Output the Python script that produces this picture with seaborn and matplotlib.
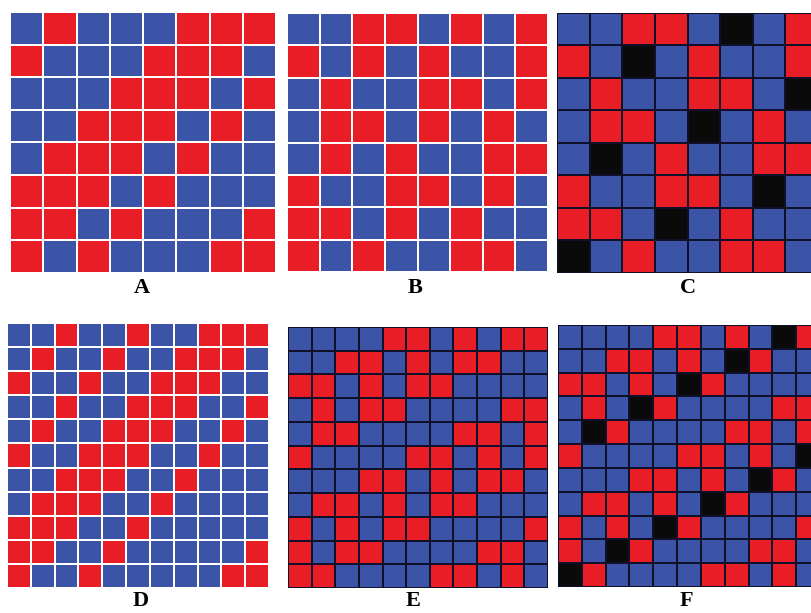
import matplotlib
matplotlib.use("Agg")
import matplotlib.pyplot as plt
from matplotlib.colors import ListedColormap
import numpy as np
import seaborn as sns

# 0 = blue, 1 = red, 2 = black
panel_a = [
    [0, 1, 0, 0, 0, 1, 1, 1],
    [1, 0, 0, 0, 1, 1, 1, 0],
    [0, 0, 0, 1, 1, 1, 0, 1],
    [0, 0, 1, 1, 1, 0, 1, 0],
    [0, 1, 1, 1, 0, 1, 0, 0],
    [1, 1, 1, 0, 1, 0, 0, 0],
    [1, 1, 0, 1, 0, 0, 0, 1],
    [1, 0, 1, 0, 0, 0, 1, 1],
]
panel_b = [
    [0, 0, 1, 1, 0, 1, 0, 1],
    [1, 0, 1, 0, 1, 0, 0, 1],
    [0, 1, 0, 0, 1, 1, 0, 1],
    [0, 1, 1, 0, 1, 0, 1, 0],
    [0, 1, 0, 1, 0, 0, 1, 1],
    [1, 0, 0, 1, 1, 0, 1, 0],
    [1, 1, 0, 1, 0, 1, 0, 0],
    [1, 0, 1, 0, 0, 1, 1, 0],
]
panel_c = [
    [0, 0, 1, 1, 0, 2, 0, 1],
    [1, 0, 2, 0, 1, 0, 0, 1],
    [0, 1, 0, 0, 1, 1, 0, 2],
    [0, 1, 1, 0, 2, 0, 1, 0],
    [0, 2, 0, 1, 0, 0, 1, 1],
    [1, 0, 0, 1, 1, 0, 2, 0],
    [1, 1, 0, 2, 0, 1, 0, 0],
    [2, 0, 1, 0, 0, 1, 1, 0],
]
panel_d = [
    [0, 0, 1, 0, 0, 1, 0, 0, 1, 1, 1],
    [0, 1, 0, 0, 1, 0, 0, 1, 1, 1, 0],
    [1, 0, 0, 1, 0, 0, 1, 1, 1, 0, 0],
    [0, 0, 1, 0, 0, 1, 1, 1, 0, 0, 1],
    [0, 1, 0, 0, 1, 1, 1, 0, 0, 1, 0],
    [1, 0, 0, 1, 1, 1, 0, 0, 1, 0, 0],
    [0, 0, 1, 1, 1, 0, 0, 1, 0, 0, 0],
    [0, 1, 1, 1, 0, 0, 1, 0, 0, 0, 0],
    [1, 1, 1, 0, 0, 1, 0, 0, 0, 0, 0],
    [1, 1, 0, 0, 1, 0, 0, 0, 0, 0, 1],
    [1, 0, 0, 1, 0, 0, 0, 0, 0, 1, 1],
]
panel_e = [
    [0, 0, 0, 0, 1, 1, 0, 1, 0, 1, 1],
    [0, 0, 1, 1, 0, 1, 0, 1, 1, 0, 0],
    [1, 1, 0, 1, 0, 1, 1, 0, 0, 0, 0],
    [0, 1, 0, 1, 1, 0, 0, 0, 0, 1, 1],
    [0, 1, 1, 0, 0, 0, 0, 1, 1, 0, 1],
    [1, 0, 0, 0, 0, 1, 1, 0, 1, 0, 1],
    [0, 0, 0, 1, 1, 0, 1, 0, 1, 1, 0],
    [0, 1, 1, 0, 1, 0, 1, 1, 0, 0, 0],
    [1, 0, 1, 0, 1, 1, 0, 0, 0, 0, 1],
    [1, 0, 1, 1, 0, 0, 0, 0, 1, 1, 0],
    [1, 1, 0, 0, 0, 0, 1, 1, 0, 1, 0],
]
panel_f = [
    [0, 0, 0, 0, 1, 1, 0, 1, 0, 2, 1],
    [0, 0, 1, 1, 0, 1, 0, 2, 1, 0, 0],
    [1, 1, 0, 1, 0, 2, 1, 0, 0, 0, 0],
    [0, 1, 0, 2, 1, 0, 0, 0, 0, 1, 1],
    [0, 2, 1, 0, 0, 0, 0, 1, 1, 0, 1],
    [1, 0, 0, 0, 0, 1, 1, 0, 1, 0, 2],
    [0, 0, 0, 1, 1, 0, 1, 0, 2, 1, 0],
    [0, 1, 1, 0, 1, 0, 2, 1, 0, 0, 0],
    [1, 0, 1, 0, 2, 1, 0, 0, 0, 0, 1],
    [1, 0, 2, 1, 0, 0, 0, 0, 1, 1, 0],
    [2, 1, 0, 0, 0, 0, 1, 1, 0, 1, 0],
]
labels = ["A", "B", "C", "D", "E", "F"]

W, H = 811, 613
cmap = ListedColormap(["#3c54a8", "#e91d25", "#0a0a0a"])

# panel boxes in pixels: left, top, right, bottom
boxes = [
    (10, 12, 276, 273),
    (287, 13, 548, 272),
    (557, 13, 818, 273),
    (7, 323, 269, 588),
    (288, 327, 548, 588),
    (558, 325, 820, 587),
]
line_colors = ["white", "white", "#10102a", "white", "#10102a", "#10102a"]
line_widths = [1.2, 1.2, 1.4, 1.2, 1.4, 1.4]
label_pos = [(142, 288), (415, 288), (688, 288), (141, 601), (413, 601), (686, 601)]

fig = plt.figure(figsize=(W / 100, H / 100), dpi=100)
grids = [panel_a, panel_b, panel_c, panel_d, panel_e, panel_f]
for grid, box, lc, lw, lab, lp in zip(grids, boxes, line_colors, line_widths, labels, label_pos):
    l, t, r, b = box
    ax = fig.add_axes([l / W, 1 - b / H, (r - l) / W, (b - t) / H])
    sns.heatmap(np.array(grid), ax=ax, cmap=cmap, vmin=-0.5, vmax=2.5, cbar=False,
                linewidths=lw, linecolor=lc, square=False,
                xticklabels=False, yticklabels=False)
    ax.set_xlabel("")
    ax.set_ylabel("")
    fig.text(lp[0] / W, 1 - lp[1] / H, lab, ha="center", va="center",
             fontsize=16, fontweight="bold", family="Liberation Serif")

fig.savefig("out.png", dpi=100)
